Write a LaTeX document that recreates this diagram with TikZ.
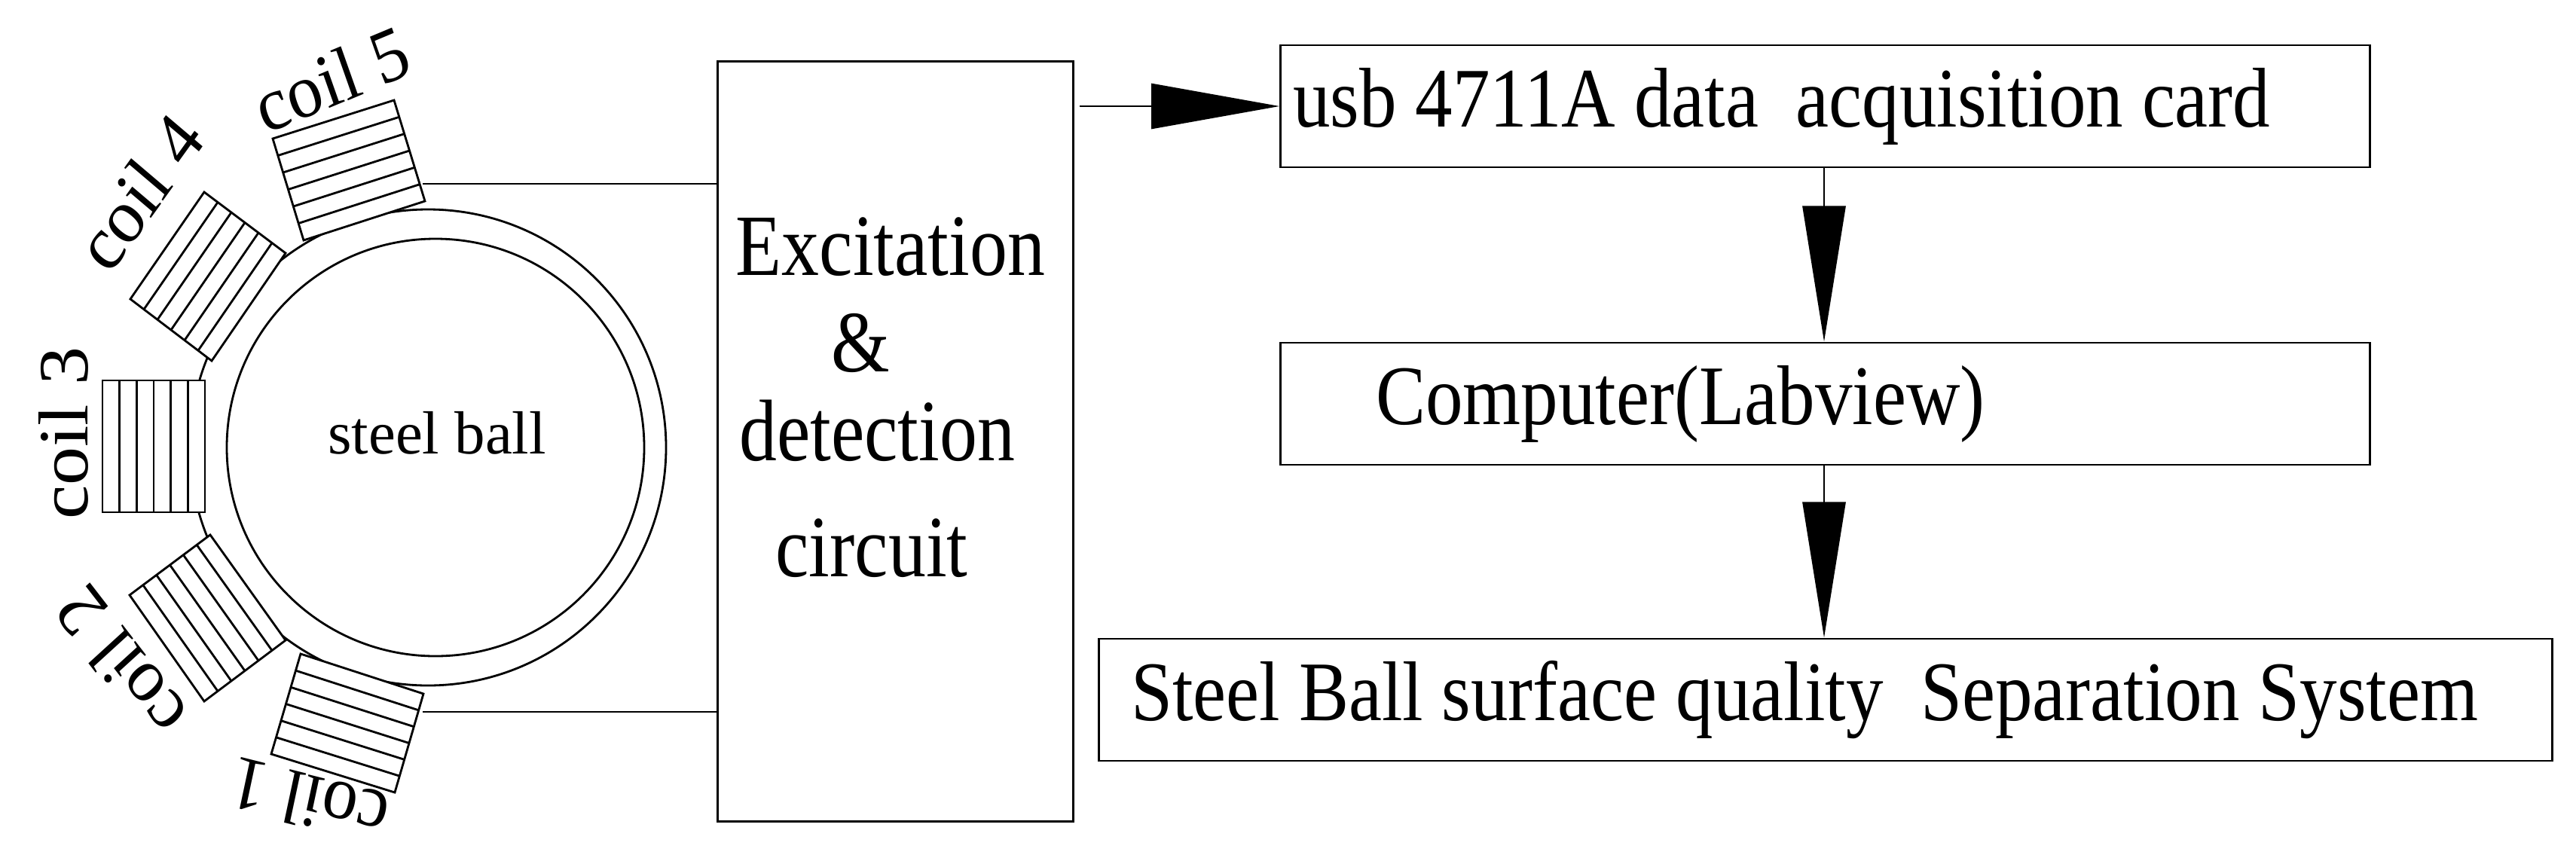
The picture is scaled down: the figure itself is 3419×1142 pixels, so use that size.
\documentclass[tikz,border=0pt]{standalone}
\usepackage{fontspec}
\setmainfont{Liberation Serif}
\usetikzlibrary{arrows.meta,calc}
\begin{document}
\begin{tikzpicture}[x=0.01cm,y=0.01cm,line width=0.8pt,
  box/.style={draw,line width=0.8pt,inner sep=0pt},
  lbl/.style={font=\fontsize{29}{32}\selectfont,inner sep=0pt,xscale=0.92},
  big/.style={font=\fontsize{32}{36}\selectfont,inner sep=0pt,anchor=west,xscale=0.88},
  exc/.style={font=\fontsize{33}{36}\selectfont,inner sep=0pt,xscale=0.86},
  harr/.style={-{Triangle[length=1.7cm,width=0.6cm]}},
  varr/.style={-{Triangle[length=1.8cm,width=0.57cm]}}]
\useasboundingbox (0,0) rectangle (3419,-1142);
% ball
\draw (568,-594) circle (316);
\draw (578,-594) circle (277);
\node[font=\fontsize{23}{26}\selectfont] (ball) at (580,-575) {steel ball};
% coils
\newcommand{\mycoil}[4]{%
  \filldraw[fill=white] #1 -- #2 -- #3 -- #4 -- cycle;
  \foreach \k in {1,...,5}{\draw ($#1!\k/6!#4$) -- ($#2!\k/6!#3$);}}
\mycoil{(362,-184)}{(523,-133)}{(564,-267)}{(403,-319)}
\mycoil{(173,-397)}{(271,-255)}{(379,-336)}{(281,-479)}
\mycoil{(136,-680)}{(136,-505)}{(272,-505)}{(272,-680)}
\mycoil{(172,-790)}{(271,-931)}{(379,-850)}{(279,-710)}
\mycoil{(360,-1001)}{(524,-1052)}{(562,-921)}{(399,-868)}
\node[lbl,rotate=21] (c5) at (440,-105) {coil 5};
\node[lbl,rotate=52] (c4) at (185,-255) {coil 4};
\node[lbl,rotate=90] (c3) at (84,-575) {coil 3};
\node[lbl,rotate=130] (c2) at (160,-880) {coil 2};
\node[lbl,rotate=167] (c1) at (410,-1064) {coil 1};
% excitation box
\node[box,minimum width=4.71cm,minimum height=10.08cm] (exc) at (1188.5,-586) {};
\node[exc] (e1) at (1182,-328) {Excitation};
\node[exc] (e2) at (1142,-455) {\&};
\node[exc] (e3) at (1164,-572) {detection};
\node[exc] (e4) at (1157,-728) {circuit};
\coordinate (w1) at (561,-244);
\coordinate (w2) at (561,-945);
\draw (w1) -- (w1 -| exc.west);
\draw (w2) -- (w2 -| exc.west);
% right boxes
\node[box,minimum width=14.45cm,minimum height=1.62cm] (usb) at (2422.5,-141) {};
\node[big] (usbt) at (1715,-141) {usb 4711A data\ \ acquisition card};
\node[box,minimum width=14.45cm,minimum height=1.62cm] (comp) at (2422.5,-536) {};
\node[big] (compt) at (1825,-536) {Computer(Labview)};
\node[box,minimum width=19.28cm,minimum height=1.62cm] (sep) at (2423,-929) {};
\node[big] (sept) at (1500,-929) {Steel Ball surface quality\ \ Separation System};
\draw[harr] ([xshift=0.07cm]exc.east |- usb.west) -- (usb.west);
\draw[varr] (usb.south -| 2421,0) -- (comp.north -| 2421,0);
\draw[varr] (comp.south -| 2421,0) -- (sep.north -| 2421,0);
\end{tikzpicture}
\end{document}
